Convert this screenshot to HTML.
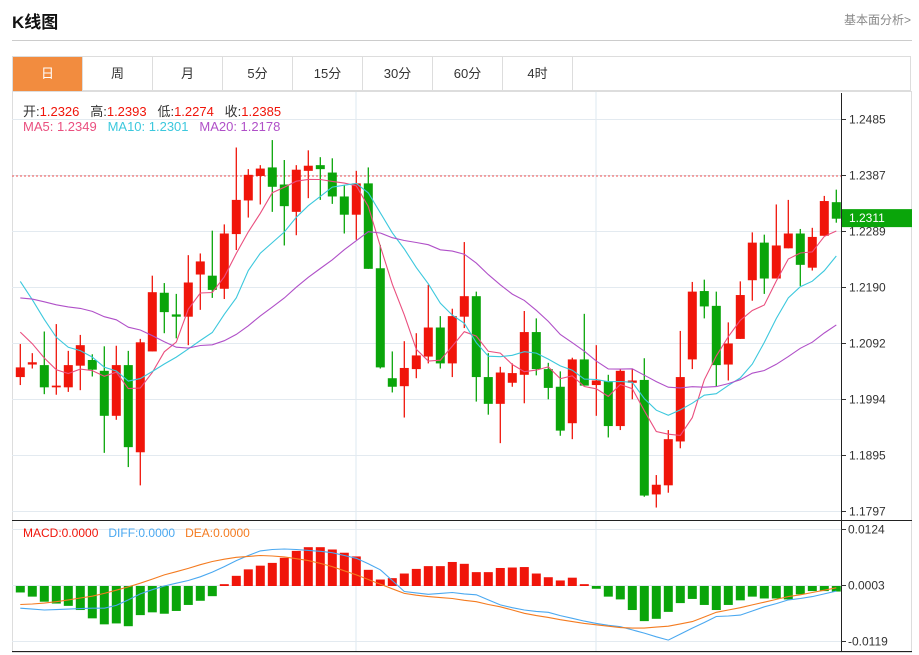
<!DOCTYPE html>
<html><head><meta charset="utf-8">
<style>
body{margin:0;width:919px;height:655px;background:#fff;font-family:"Liberation Sans","Noto Sans CJK SC",sans-serif;position:relative;overflow:hidden}
.t{position:absolute}
#tabs{position:absolute;left:12px;top:56px;width:899px;height:35px;border:1px solid #ddd;box-sizing:border-box}
.tab{position:absolute;top:0;height:34px;width:70px;border-right:1px solid #ddd;text-align:center;line-height:34px;font-size:13px;color:#333;box-sizing:border-box}
.tab.on{background:#f28c3f;color:#fff}
svg{position:absolute;left:0;top:0}
</style></head><body>
<div class="t" style="left:12px;top:8px;font-size:17px;font-weight:bold;color:#111">K线图</div>
<div class="t" style="left:844px;top:11px;font-size:12px;color:#888">基本面分析&gt;</div>
<div class="t" style="left:12px;top:40px;width:900px;height:1px;background:#ccc"></div>
<div id="tabs">
<div class="tab on" style="left:0">日</div>
<div class="tab" style="left:70px">周</div>
<div class="tab" style="left:140px">月</div>
<div class="tab" style="left:210px">5分</div>
<div class="tab" style="left:280px">15分</div>
<div class="tab" style="left:350px">30分</div>
<div class="tab" style="left:420px">60分</div>
<div class="tab" style="left:490px">4时</div>
</div>
<svg id="chart" width="919" height="655" xmlns="http://www.w3.org/2000/svg"></svg>
<script>
const opens =[1.2032,1.2054,1.2053,1.2014,1.2014,1.2052,1.2062,1.2043,1.1964,1.2053,1.1900,1.2077,1.2180,1.2142,1.2138,1.2212,1.2210,1.2187,1.2283,1.2342,1.2385,1.2400,1.2370,1.2322,1.2394,1.2404,1.2391,1.2349,1.2317,1.2372,1.2223,1.2030,1.2016,1.2046,1.2068,1.2119,1.2056,1.2138,1.2174,1.2032,1.1985,1.2022,1.2036,1.2111,1.2046,1.2015,1.1951,1.2063,1.2018,1.2025,1.1946,1.2022,1.2027,1.1826,1.1842,1.1919,1.2063,1.2183,1.2157,1.2054,1.2099,1.2202,1.2268,1.2205,1.2258,1.2284,1.2224,1.2280,1.2339];
const highs =[1.2090,1.2074,1.2112,1.2125,1.2078,1.2106,1.2072,1.2086,1.2087,1.2078,1.2099,1.2210,1.2197,1.2178,1.2246,1.2249,1.2289,1.2300,1.2435,1.2397,1.2404,1.2448,1.2413,1.2404,1.2430,1.2418,1.2416,1.2369,1.2394,1.2400,1.2264,1.2077,1.2095,1.2109,1.2194,1.2139,1.2152,1.2269,1.2182,1.2074,1.2050,1.2056,1.2148,1.2135,1.2057,1.2042,1.2066,1.2143,1.2088,1.2036,1.2047,1.2047,1.2065,1.1860,1.1939,1.2113,1.2199,1.2203,1.2182,1.2128,1.2200,1.2286,1.2282,1.2335,1.2343,1.2292,1.2294,1.2350,1.2361];
const lows  =[1.2018,1.2047,1.2002,1.2001,1.2006,1.2009,1.2033,1.1899,1.1957,1.1874,1.1842,1.2077,1.2109,1.2100,1.2088,1.2150,1.2171,1.2169,1.2255,1.2312,1.2335,1.2322,1.2263,1.2281,1.2346,1.2343,1.2336,1.2284,1.2273,1.2222,1.2047,1.2005,1.1961,1.2030,1.2056,1.2047,1.2032,1.2118,1.1989,1.1966,1.1916,1.2015,1.1986,1.2035,1.1993,1.1929,1.1923,1.2017,1.1964,1.1926,1.1939,1.1993,1.1822,1.1803,1.1829,1.1907,1.2046,1.2135,1.2015,1.2026,1.2099,1.2166,1.2178,1.2205,1.2258,1.2192,1.2219,1.2280,1.2303];
const closes=[1.2049,1.2058,1.2014,1.2017,1.2053,1.2088,1.2045,1.1964,1.2053,1.1909,1.2093,1.2181,1.2146,1.2138,1.2198,1.2235,1.2185,1.2284,1.2343,1.2387,1.2398,1.2366,1.2332,1.2396,1.2403,1.2397,1.2349,1.2317,1.2372,1.2222,1.2049,1.2015,1.2048,1.2070,1.2119,1.2056,1.2139,1.2174,1.2032,1.1985,1.2040,1.2039,1.2111,1.2046,1.2013,1.1938,1.2063,1.2017,1.2026,1.1946,1.2043,1.2026,1.1824,1.1843,1.1923,1.2032,1.2182,1.2156,1.2053,1.2091,1.2176,1.2268,1.2205,1.2263,1.2284,1.2229,1.2278,1.2341,1.2310];
const prevCloses=[1.2100,1.2110,1.2120,1.2130,1.2140,1.2150,1.2150,1.2160,1.2170,1.2190,1.2380,1.2360,1.2330,1.2230,1.2145,1.2160,1.2140,1.2120,1.2086];
const priceTicks=[1.2485,1.2387,1.2289,1.2190,1.2092,1.1994,1.1895,1.1797];
const lastClose=1.2385, currentPrice=1.2311;
const macdHist=[-0.0014,-0.0023,-0.0034,-0.0038,-0.0043,-0.0052,-0.0070,-0.0083,-0.0081,-0.0087,-0.0063,-0.0057,-0.0060,-0.0054,-0.0041,-0.0032,-0.0022,0.0004,0.0022,0.0036,0.0044,0.0050,0.0061,0.0076,0.0084,0.0084,0.0079,0.0072,0.0064,0.0035,0.0014,0.0017,0.0027,0.0037,0.0043,0.0043,0.0052,0.0048,0.0030,0.0030,0.0039,0.0040,0.0041,0.0027,0.0019,0.0012,0.0018,0.0004,-0.0006,-0.0023,-0.0029,-0.0052,-0.0076,-0.0071,-0.0056,-0.0037,-0.0028,-0.0041,-0.0052,-0.0041,-0.0031,-0.0023,-0.0027,-0.0027,-0.0029,-0.0018,-0.0011,-0.0011,-0.0012];
const diffLine=[-0.0048,-0.0050,-0.0052,-0.0051,-0.0050,-0.0049,-0.0048,-0.0048,-0.0042,-0.0030,-0.0017,-0.0008,0.0000,0.0006,0.0012,0.0020,0.0030,0.0042,0.0055,0.0066,0.0076,0.0079,0.0080,0.0079,0.0077,0.0075,0.0072,0.0066,0.0060,0.0048,0.0035,0.0012,-0.0012,-0.0015,-0.0018,-0.0016,-0.0014,-0.0017,-0.0019,-0.0030,-0.0041,-0.0047,-0.0052,-0.0055,-0.0057,-0.0064,-0.0070,-0.0076,-0.0081,-0.0085,-0.0088,-0.0095,-0.0102,-0.0110,-0.0117,-0.0104,-0.0091,-0.0079,-0.0066,-0.0065,-0.0063,-0.0054,-0.0045,-0.0038,-0.0030,-0.0027,-0.0023,-0.0017,-0.0011];
const deaLine=[-0.0040,-0.0039,-0.0037,-0.0034,-0.0030,-0.0026,-0.0022,-0.0016,-0.0009,-0.0002,0.0006,0.0015,0.0024,0.0031,0.0038,0.0046,0.0053,0.0058,0.0062,0.0064,0.0066,0.0065,0.0063,0.0059,0.0055,0.0049,0.0042,0.0033,0.0024,0.0014,0.0004,-0.0006,-0.0016,-0.0020,-0.0023,-0.0025,-0.0027,-0.0031,-0.0034,-0.0040,-0.0045,-0.0052,-0.0059,-0.0064,-0.0068,-0.0073,-0.0077,-0.0081,-0.0084,-0.0087,-0.0090,-0.0091,-0.0091,-0.0089,-0.0087,-0.0082,-0.0077,-0.0067,-0.0057,-0.0052,-0.0047,-0.0041,-0.0035,-0.0029,-0.0023,-0.0019,-0.0014,-0.0009,-0.0004];
const macdTicks=[0.0124,0.0003,-0.0119];

const RED='#f0150a',GREEN='#0aa50a';
const svg=document.getElementById('chart');
const NS='http://www.w3.org/2000/svg';
function mk(tag,attrs,parent){const e=document.createElementNS(NS,tag);for(const k in attrs)e.setAttribute(k,attrs[k]);(parent||svg).appendChild(e);return e;}
const xOf=i=>20.3+12*i;
const yP=p=>119+(1.2485-p)*5697;
const yM=v=>586-v*4621;

// frame
let e;
e=mk('rect',{x:12.5,y:91.5,width:899,height:561,fill:'none',stroke:'#ddd'});

[356,596].forEach(x=>{e=mk('line',{x1:x,x2:x,y1:92,y2:652,stroke:'#dde8f0'});
});
priceTicks.forEach(p=>{const y=Math.round(yP(p))+0.5;
e=mk('line',{x1:12,x2:841,y1:y,y2:y,stroke:'#e3eaf0'});

e=mk('line',{x1:841,x2:846,y1:y,y2:y,stroke:'#333'});

e=mk('text',{x:849,y:y+4,'font-size':12,fill:'#333'});e.textContent=p.toFixed(4);
});
e=mk('line',{x1:841.5,x2:841.5,y1:93,y2:652,stroke:'#222'});

e=mk('line',{x1:12,x2:912,y1:520.5,y2:520.5,stroke:'#222'});

e=mk('line',{x1:12,x2:912,y1:651.5,y2:651.5,stroke:'#222'});

macdTicks.forEach(v=>{const y=Math.round(yM(v))+0.5;
e=mk('line',{x1:12,x2:841,y1:y,y2:y,stroke:'#e3eaf0'});

e=mk('line',{x1:841,x2:846,y1:y,y2:y,stroke:'#333'});

e=mk('text',{x:848,y:y+4,'font-size':12,fill:'#333'});e.textContent=v.toFixed(4);
});

// last close dotted line
e=mk('line',{x1:12,x2:841,y1:yP(lastClose),y2:yP(lastClose),stroke:'#f05050','stroke-dasharray':'2,2'});


// candles
closes.forEach((c,i)=>{const o=opens[i],up=c>=o,col=up?RED:GREEN,x=xOf(i);
const g=mk('g',{});

mk('line',{x1:x,x2:x,y1:yP(highs[i]),y2:yP(lows[i]),stroke:col,'stroke-width':1.3},g);
const t=yP(Math.max(o,c)),b=yP(Math.min(o,c));
mk('rect',{x:x-4.5,y:t,width:9,height:Math.max(1.5,b-t),fill:col},g);});

// MAs
const all=prevCloses.concat(closes);
function ma(n){return closes.map((_,i)=>{const j=i+prevCloses.length;let s=0,k=0;for(let m=Math.max(0,j-n+1);m<=j;m++){s+=all[m];k++;}return s/k;});}
[[5,'#ea4f7f','ma5-line'],[10,'#3cc8dd','ma10-line'],[20,'#b050c8','ma20-line']].forEach(([n,col,name])=>{
const pts=ma(n).map((v,i)=>xOf(i)+','+yP(v).toFixed(1)).join(' ');
e=mk('polyline',{points:pts,fill:'none',stroke:col,'stroke-width':1.1});
});

// price label
e=mk('rect',{x:842,y:yP(currentPrice)-9,width:70,height:18,fill:'#0aa50a'});

e=mk('text',{x:849,y:yP(currentPrice)+4,'font-size':12,fill:'#fff'});e.textContent=currentPrice.toFixed(4);


// MACD histogram
macdHist.forEach((v,i)=>{const y0=yM(0),y1=yM(v);
e=mk('rect',{x:xOf(i)-4.5,y:Math.min(y0,y1),width:9,height:Math.max(1,Math.abs(y1-y0)),fill:v>=0?RED:GREEN});
});
[[diffLine,'#4aa8f0','diff-line'],[deaLine,'#f47b20','dea-line']].forEach(([arr,col,name])=>{
const pts=arr.map((v,i)=>xOf(i)+','+yM(v).toFixed(1)).join(' ');
e=mk('polyline',{points:pts,fill:'none',stroke:col,'stroke-width':1.1});
});
</script>
<div class="t" style="left:23px;top:101px;font-size:13px;color:#333;white-space:pre">开:<span style="color:#f0150a">1.2326</span>   高:<span style="color:#f0150a">1.2393</span>   低:<span style="color:#f0150a">1.2274</span>   收:<span style="color:#f0150a">1.2385</span></div>
<div class="t" style="left:23px;top:119px;font-size:13px;white-space:pre"><span style="color:#ea4f7f">MA5: 1.2349</span>   <span style="color:#3cc8dd">MA10: 1.2301</span>   <span style="color:#b050c8">MA20: 1.2178</span></div>
<div class="t" style="left:23px;top:526px;font-size:12px;white-space:pre"><span style="color:#f0150a">MACD:0.0000</span>   <span style="color:#4aa8f0">DIFF:0.0000</span>   <span style="color:#f47b20">DEA:0.0000</span></div>
</body></html>
